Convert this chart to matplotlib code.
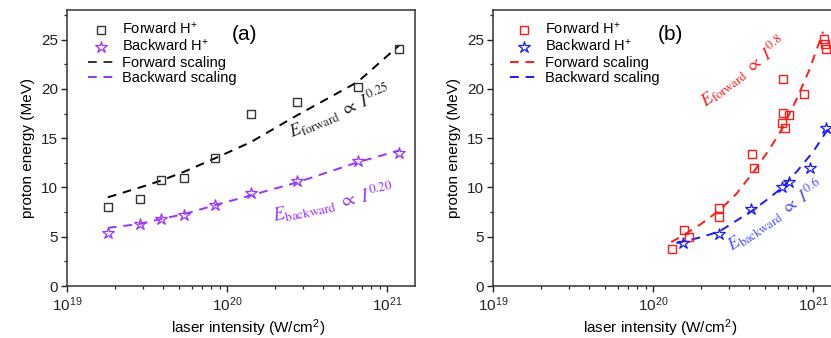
import numpy as np
import matplotlib.pyplot as plt
from matplotlib.ticker import MultipleLocator, LogLocator

plt.rcParams['font.family'] = ['Liberation Sans', 'DejaVu Sans']
plt.rcParams['mathtext.fontset'] = 'stix'

# ======================
# Data, panel (a)
# ======================
a_fwd_I = [1.8e19, 2.86e19, 3.88e19, 5.41e19, 8.41e19, 1.41e20, 2.73e20, 6.56e20, 1.19e21]
a_fwd_E = [8.0, 8.8, 10.8, 11.0, 13.0, 17.4, 18.7, 20.2, 24.0]
a_bwd_I = [1.8e19, 2.86e19, 3.88e19, 5.41e19, 8.41e19, 1.41e20, 2.73e20, 6.56e20, 1.19e21]
a_bwd_E = [5.4, 6.3, 6.75, 7.25, 8.2, 9.4, 10.7, 12.7, 13.5]

a_fwd_fit_I = [1.8e19, 2.86e19, 3.88e19, 5.41e19, 8.41e19, 1.41e20, 2.73e20, 6.56e20, 1.19e21]
a_fwd_fit_E = [9.0, 10.0, 10.7, 11.6, 12.95, 14.6, 17.3, 20.7, 24.4]
a_bwd_fit_I = [1.8e19, 2.86e19, 3.88e19, 5.41e19, 8.41e19, 1.41e20, 2.73e20, 6.56e20, 1.19e21]
a_bwd_fit_E = [5.9, 6.3, 6.8, 7.3, 8.2, 9.2, 10.5, 12.55, 13.75]

# ======================
# Data, panel (b)
# ======================
b_fwd_I = [1.31e20, 1.56e20, 1.67e20, 2.57e20, 2.57e20, 4.18e20, 4.28e20,
           6.53e20, 6.5e20, 7.05e20, 6.37e20, 6.7e20, 8.75e20,
           1.17e21, 1.18e21, 1.2e21]
b_fwd_E = [3.8, 5.65, 5.0, 7.95, 6.95, 13.4, 12.0,
           21.0, 17.6, 17.3, 16.5, 16.0, 19.5,
           25.1, 24.6, 24.0]
b_bwd_I = [1.55e20, 2.57e20, 4.1e20, 6.37e20, 7.1e20, 9.57e20, 1.2e21]
b_bwd_E = [4.35, 5.3, 7.85, 10.05, 10.55, 12.0, 16.0]

b_fwd_fit_I = [1.30e20, 1.6e20, 2.0e20, 2.61e20, 3.3e20, 4.31e20, 5.3e20,
               6.34e20, 7.87e20, 9.53e20, 1.155e21]
b_fwd_fit_E = [4.45, 5.3, 6.3, 7.7, 9.3, 11.7, 13.8, 15.8, 18.9, 22.0, 25.8]
b_bwd_fit_I = [1.4e20, 2.0e20, 2.61e20, 3.3e20, 4.22e20, 5.3e20, 6.49e20,
               8.0e20, 1.0e21, 1.25e21]
b_bwd_fit_E = [4.35, 4.95, 5.55, 6.6, 7.7, 8.9, 10.05, 11.7, 13.6, 16.0]

purple = '#9933ff'
red = '#ff1a1a'
blue = '#1a1aff'

fig = plt.figure(figsize=(8.31, 3.38), dpi=100)
ax_a = fig.add_axes([67/831, 1 - 286/338, 348/831, 276/338])
ax_b = fig.add_axes([493/831, 1 - 286/338, 348/831, 276/338])


def style_axis(ax, label_x):
    ax.set_xscale('log')
    ax.set_xlim(1e19, 10**21.175)
    ax.set_ylim(0, 28)
    ax.xaxis.set_major_locator(LogLocator(base=10, numticks=5))
    ax.xaxis.set_minor_locator(LogLocator(base=10, subs=np.arange(2, 10), numticks=20))
    ax.yaxis.set_major_locator(MultipleLocator(5))
    ax.yaxis.set_minor_locator(MultipleLocator(2.5))
    ax.tick_params(which='major', direction='out', length=4.5, width=1,
                   labelsize=11, pad=2, colors='#222222')
    ax.tick_params(which='minor', direction='out', length=2.5, width=0.9,
                   colors='#222222')
    for s in ax.spines.values():
        s.set_linewidth(1.1)
        s.set_color('#333333')
    ax.set_xlabel('laser intensity (W/cm$^{\\mathdefault{2}}$)', fontsize=11)
    ax.xaxis.set_label_coords(label_x, -0.113)
    ax.set_ylabel('proton energy (MeV)', fontsize=11, labelpad=4)


def draw_panel(ax, fI, fE, bI, bE, ffI, ffE, bfI, bfE, fcol, bcol, tag, lx, label_x):
    style_axis(ax, label_x)
    ax.plot(ffI, ffE, color=fcol, lw=1.4, dashes=(4.5, 3.5), label='Forward scaling', zorder=2)
    ax.plot(bfI, bfE, color=bcol, lw=1.4, dashes=(4.5, 3.5), label='Backward scaling', zorder=2)
    ax.plot(fI, fE, ls='none', marker='s', ms=5.5, mfc='none', mec=fcol, mew=1.0,
            label='Forward H$^{\\mathdefault{+}}$', zorder=3)
    ax.plot(bI, bE, ls='none', marker='*', ms=9, mfc='none', mec=bcol, mew=0.9,
            label='Backward H$^{\\mathdefault{+}}$', zorder=3)
    h, l = ax.get_legend_handles_labels()
    order = [2, 3, 0, 1]
    ax.legend([h[i] for i in order], [l[i] for i in order], loc='upper left',
              bbox_to_anchor=(lx, 0.957), frameon=False, fontsize=10.5,
              handlelength=1.8, handletextpad=0.55, labelspacing=0.08,
              borderpad=0, borderaxespad=0)
    ax.text(0.511, 0.913, tag, transform=ax.transAxes, ha='center', va='center', fontsize=15)


draw_panel(ax_a, a_fwd_I, a_fwd_E, a_bwd_I, a_bwd_E,
           a_fwd_fit_I, a_fwd_fit_E, a_bwd_fit_I, a_bwd_fit_E,
           '#333333', purple, '(a)', 0.06, 0.52)
ax_a.lines[0].set_color('black')

draw_panel(ax_b, b_fwd_I, b_fwd_E, b_bwd_I, b_bwd_E,
           b_fwd_fit_I, b_fwd_fit_E, b_bwd_fit_I, b_bwd_fit_E,
           red, blue, '(b)', 0.05, 0.48)

# scaling labels
ax_a.text(0.785, 0.634, r'$E_{\rm forward}\ \propto\ I^{0.25}$', transform=ax_a.transAxes,
          rotation=23, ha='center', va='center', rotation_mode='anchor',
          fontsize=13, color='#222222')
ax_a.text(0.766, 0.305, r'$E_{\rm backward}\ \propto\ I^{0.20}$', transform=ax_a.transAxes,
          rotation=12, ha='center', va='center', rotation_mode='anchor',
          fontsize=13.5, color=purple)
ax_b.text(0.718, 0.775, r'$E_{\rm forward}\ \propto\ I^{0.8}$', transform=ax_b.transAxes,
          rotation=37, ha='center', va='center', rotation_mode='anchor',
          fontsize=13, color=red)
ax_b.text(0.81, 0.255, r'$E_{\rm backward}\ \propto\ I^{0.6}$', transform=ax_b.transAxes,
          rotation=34, ha='center', va='center', rotation_mode='anchor',
          fontsize=13, color='#4d4dff')

plt.savefig('out.png', dpi=100)
